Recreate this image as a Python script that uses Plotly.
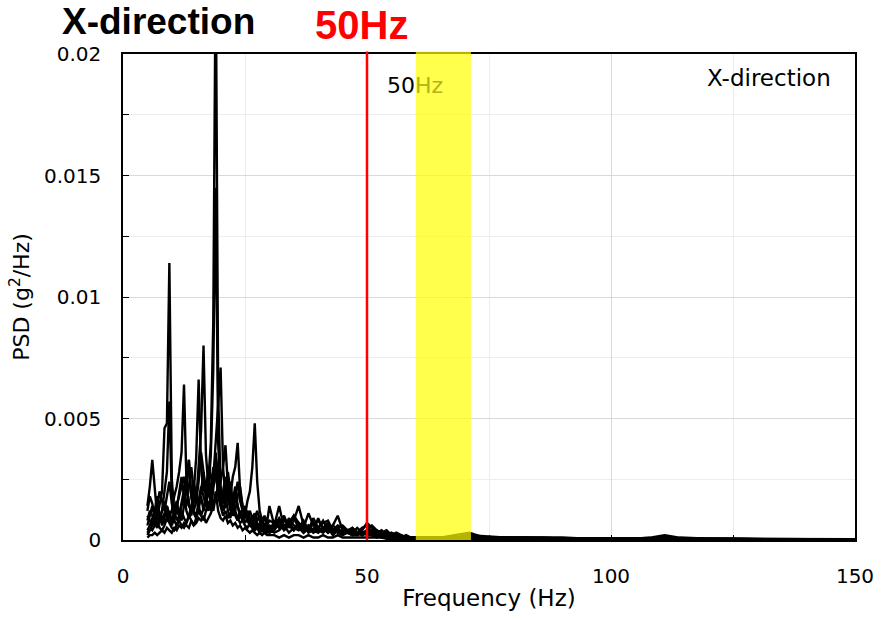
import plotly.graph_objects as go

# Frequency grid (Hz)
FREQ_LOW = [5.0, 5.5, 6.0, 6.5, 7.0, 7.5, 8.0, 8.5, 9.0, 9.5,
            10.0, 10.5, 11.0, 11.5, 12.0, 12.5, 13.0, 13.5, 14.0, 14.5,
            15.0, 15.5, 16.0, 16.5, 17.0, 17.5, 18.0, 18.5, 19.0, 19.5,
            20.0, 20.5, 21.0, 21.5, 22.0, 22.5, 23.0, 23.5, 24.0, 24.5,
            25.0, 25.5, 26.0, 26.5, 27.0, 27.5, 28.0, 28.5, 29.0, 29.5,
            30.0]
FREQ_MID = [31, 32, 33, 34, 35, 36, 37, 38, 39, 40,
            41, 42, 43, 44, 45, 46, 47, 48, 49, 50,
            51, 52, 53, 54, 55, 56, 57, 58, 59, 60]
FREQ_HIGH = [62, 65, 68, 71, 74, 78, 82, 86, 90, 95, 100,
             105, 108, 111, 114, 120, 125, 130, 135, 140, 145, 150]
FREQ = FREQ_LOW + FREQ_MID + FREQ_HIGH

# PSD values in units of 1e-4 g^2/Hz (one list per measurement)
PSD_UNIT = 1e-4
psd_a = [8, 12, 10, 6, 9, 14, 20, 46, 48, 114, 25, 12, 8, 10, 14, 18, 12, 9, 11, 15,
         20, 14, 10, 13, 18, 25, 40, 90, 240, 60, 22, 15, 18, 12, 9, 14, 11, 8, 10, 9,
         12, 8, 6, 7, 5, 6, 4, 5, 4, 6, 5,
         6, 14, 5, 8, 4, 6, 3, 5, 3, 4, 3, 5, 2, 4, 3, 3, 2, 3, 2, 3,
         2, 2, 1, 2, 1, 1, 1, 1, 1, 1,
         1, 1, 1, 2, 1, 1, 1, 0.5, 0.5, 0.5, 0.5, 0.5, 0.5, 1, 0.5, 0.5, 0.3, 0.3, 0.3, 0.3, 0.3, 0.3]
psd_b = [4, 6, 9, 7, 5, 8, 12, 20, 28, 57, 18, 8, 6, 9, 12, 9, 7, 10, 14, 11,
         9, 16, 22, 18, 14, 20, 35, 70, 145, 40, 18, 12, 16, 22, 15, 10, 12, 9, 7, 8,
         6, 5, 7, 5, 4, 5, 3, 4, 3, 4, 3,
         4, 7, 10, 5, 8, 14, 6, 4, 7, 5, 8, 4, 6, 10, 4, 3, 5, 3, 4, 7,
         5, 3, 4, 2, 3, 2, 2, 1, 1, 1,
         1, 1, 2, 3, 1, 1, 1, 1, 0.5, 0.5, 0.5, 0.5, 1, 2, 1, 0.5, 0.5, 0.3, 0.3, 0.3, 0.3, 0.3]
psd_c = [6, 10, 14, 9, 6, 8, 10, 7, 9, 12, 8, 10, 14, 18, 22, 26, 20, 33, 18, 12,
         16, 30, 45, 80, 35, 22, 18, 25, 40, 55, 71, 30, 18, 24, 16, 12, 18, 14, 10, 8,
         11, 9, 7, 10, 8, 6, 5, 4, 6, 4, 3,
         8, 5, 9, 6, 10, 7, 5, 11, 6, 8, 5, 7, 4, 6, 5, 4, 3, 5, 3, 4,
         6, 4, 3, 4, 2, 3, 2, 1, 1, 1,
         1, 0.5, 1, 2, 1, 1, 0.5, 0.5, 0.5, 0.5, 0.5, 0.5, 0.5, 1, 0.5, 0.5, 0.5, 0.3, 0.3, 0.3, 0.2, 0.2]
psd_d = [10, 8, 6, 9, 12, 10, 8, 11, 14, 10, 12, 18, 22, 28, 36, 64, 24, 14, 12, 20,
         34, 66, 30, 20, 24, 18, 22, 30, 26, 20, 24, 30, 39, 22, 18, 26, 30, 40, 20, 14,
         10, 12, 9, 8, 10, 7, 6, 8, 5, 6, 4,
         5, 8, 4, 9, 6, 5, 8, 4, 9, 5, 7, 8, 4, 5, 6, 4, 5, 3, 5, 6,
         3, 4, 2, 3, 2, 2, 1, 2, 1, 1,
         1, 1, 1, 2, 1.5, 1, 1, 1, 1, 0.5, 0.5, 0.5, 0.5, 1, 0.5, 0.5, 0.5, 0.5, 0.3, 0.3, 0.3, 0.3]
psd_e = [14, 22, 33, 20, 10, 8, 12, 16, 10, 8, 6, 9, 12, 10, 15, 20, 26, 33, 18, 12,
         10, 14, 18, 12, 16, 20, 16, 12, 18, 22, 16, 12, 14, 18, 24, 16, 12, 18, 22, 14,
         10, 16, 20, 30, 48, 24, 12, 8, 10, 7, 14,
         6, 9, 5, 7, 10, 6, 4, 6, 4, 9, 4, 6, 3, 5, 3, 4, 2, 3, 2, 4,
         3, 2, 2, 1, 2, 1, 1, 1, 1, 1,
         0.5, 1, 1, 1.5, 1, 0.5, 0.5, 0.5, 0.5, 0.5, 0.3, 0.3, 0.5, 0.5, 0.5, 0.3, 0.3, 0.3, 0.2, 0.2, 0.2, 0.2]
psd_f = [3, 5, 4, 6, 8, 5, 4, 6, 9, 7, 5, 4, 6, 8, 6, 5, 7, 10, 8, 6,
         9, 12, 10, 8, 12, 16, 12, 20, 30, 18, 14, 10, 12, 9, 11, 14, 10, 8, 12, 10,
         7, 9, 6, 5, 7, 5, 4, 6, 4, 3, 4,
         3, 4, 6, 3, 5, 4, 6, 3, 4, 3, 5, 3, 4, 3, 2, 3, 2, 2, 3, 2,
         2, 1, 2, 1, 1, 1, 1, 1, 1, 1,
         0.5, 0.5, 0.5, 1, 0.5, 0.5, 0.5, 0.3, 0.3, 0.3, 0.3, 0.3, 0.3, 0.5, 0.3, 0.3, 0.2, 0.2, 0.2, 0.2, 0.2, 0.2]
psd_g = [1, 2, 2, 3, 2, 3, 4, 3, 5, 4, 3, 5, 4, 6, 5, 7, 6, 5, 8, 6,
         7, 9, 8, 10, 7, 9, 11, 14, 20, 12, 9, 8, 10, 7, 8, 6, 7, 5, 6, 4,
         5, 4, 3, 4, 3, 2, 3, 2, 3, 2, 2,
         2, 1, 2, 1, 2, 2, 1, 2, 1, 1, 2, 1, 1, 2, 1, 1, 1, 1, 1, 1,
         1, 1, 1, 0.5, 0.5, 0.5, 0.5, 0.5, 0.5, 0.5,
         0.3, 0.3, 0.3, 0.4, 0.3, 0.3, 0.3, 0.3, 0.3, 0.3, 0.3, 0.3, 0.3, 0.3, 0.3, 0.3, 0.3, 0.3, 0.3, 0.3, 0.3, 0.3]
psd_h = [12, 18, 15, 10, 14, 20, 16, 12, 18, 24, 15, 10, 13, 20, 26, 18, 14, 22, 30, 20,
         16, 24, 36, 28, 20, 30, 26, 22, 34, 28, 20, 16, 22, 28, 20, 14, 18, 24, 16, 12,
         14, 10, 12, 9, 11, 8, 10, 7, 9, 6, 8,
         7, 5, 8, 6, 4, 7, 5, 6, 4, 5, 4, 5, 3, 4, 3, 3, 4, 2, 3, 3,
         2, 3, 2, 2, 1, 2, 1, 1, 1, 1,
         1, 1, 1, 2, 1, 1, 0.5, 0.5, 0.5, 0.5, 0.5, 0.3, 0.5, 1, 0.5, 0.3, 0.3, 0.3, 0.3, 0.2, 0.2, 0.2]
psd_i = [2, 4, 6, 12, 18, 10, 6, 9, 14, 10, 7, 12, 16, 11, 8, 14, 22, 16, 10, 24,
         18, 12, 20, 28, 16, 12, 18, 24, 36, 22, 14, 20, 26, 18, 12, 16, 22, 14, 10, 13,
         9, 11, 8, 6, 9, 12, 8, 5, 7, 5, 6,
         5, 8, 4, 6, 9, 5, 3, 5, 7, 4, 5, 3, 6, 4, 3, 4, 2, 3, 2, 3,
         4, 2, 3, 1, 2, 1, 1, 1, 1, 1,
         0.5, 1, 1, 1.5, 1, 0.5, 0.5, 0.5, 0.3, 0.3, 0.3, 0.3, 0.3, 0.5, 0.3, 0.3, 0.2, 0.2, 0.2, 0.2, 0.2, 0.2]

SERIES = [psd_g, psd_f, psd_i, psd_h, psd_e, psd_d, psd_c, psd_b, psd_a]

X_TICKS = [0, 50, 100, 150]
Y_TICKS = [0, 0.005, 0.01, 0.015, 0.02]
Y_TICK_TEXT = ["0", "0.005", "0.01", "0.015", "0.02"]
MARK_FREQ = 50
BAND = [60, 71.3]

fig = go.Figure()
for s in SERIES:
    fig.add_trace(go.Scatter(x=FREQ, y=[v * PSD_UNIT for v in s], mode="lines",
                             line=dict(color="black", width=2.4), hoverinfo="skip"))

fig.update_layout(
    width=885, height=620,
    margin=dict(l=123, r=30, t=54, b=80),
    plot_bgcolor="white", paper_bgcolor="white",
    showlegend=False,
    font=dict(family="DejaVu Sans", color="black", size=20),
)
fig.update_xaxes(
    range=[0, 150], tickvals=X_TICKS, ticks="inside", ticklen=5, tickcolor="black",
    showline=True, linecolor="black", linewidth=1.5, mirror=True,
    showgrid=True, gridcolor="#d9d9d9", gridwidth=1, zeroline=False,
    minor=dict(dtick=25, showgrid=True, gridcolor="#ededed", ticks="inside", ticklen=5, tickcolor="black"),
    tickfont=dict(size=20), ticklabelstandoff=17,
    title=dict(text="Frequency (Hz)", font=dict(size=23), standoff=3),
)
fig.update_yaxes(
    range=[0, 0.02], tickvals=Y_TICKS, ticktext=Y_TICK_TEXT, ticks="inside", ticklen=6, tickcolor="black",
    showline=True, linecolor="black", linewidth=1.5, mirror=True,
    showgrid=True, gridcolor="#d9d9d9", gridwidth=1, zeroline=False,
    minor=dict(dtick=0.0025, showgrid=True, gridcolor="#ededed", ticks="inside", ticklen=6, tickcolor="black"),
    tickfont=dict(size=20), ticklabelstandoff=16,
    title=dict(text="PSD (g<sup>2</sup>/Hz)", font=dict(size=22), standoff=8),
)

fig.add_shape(type="rect", xref="x", yref="paper", x0=BAND[0], x1=BAND[1], y0=0, y1=1.005,
              fillcolor="rgba(255,255,0,0.7)", line=dict(width=0), layer="above")
fig.add_shape(type="line", xref="x", yref="paper", x0=MARK_FREQ, x1=MARK_FREQ, y0=0, y1=1.005,
              line=dict(color="red", width=2.5), layer="above")

fig.add_annotation(xref="paper", yref="paper", x=-0.086, y=1.066, xanchor="left", yanchor="middle",
                   text="<b>X-direction</b>", showarrow=False,
                   font=dict(family="Liberation Sans", size=37, color="black"))
fig.add_annotation(xref="paper", yref="paper", x=0.259, y=1.06, xanchor="left", yanchor="middle",
                   text="<b>50Hz</b>", showarrow=False,
                   font=dict(family="Liberation Sans", size=40, color="red"))
fig.add_annotation(xref="x", yref="y", x=53.7, y=0.0187, xanchor="left", yanchor="middle",
                   text="50<span style='color:#b3b31a'>Hz</span>", showarrow=False,
                   font=dict(family="DejaVu Sans", size=22, color="black"))
fig.add_annotation(xref="x", yref="y", x=145.5, y=0.0190, xanchor="right", yanchor="middle",
                   text="X-direction", showarrow=False,
                   font=dict(family="DejaVu Sans", size=23, color="black"))

# remove the browser's default 8px page margin so the figure sits at the window origin
fig.write_html("out.html", config={"displayModeBar": False},
               post_script="document.body.style.margin='0px';")
